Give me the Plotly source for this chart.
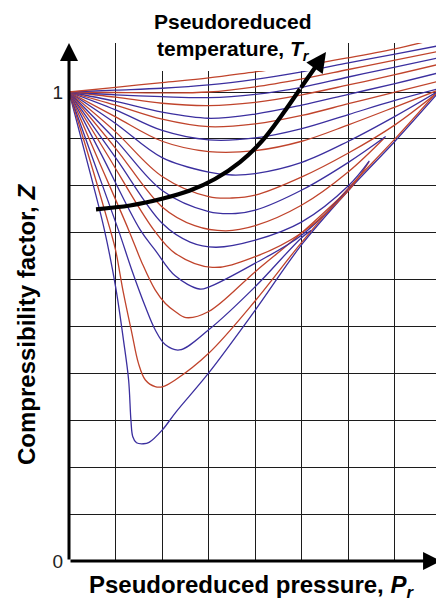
import plotly.graph_objects as go

# ---- Generalized compressibility chart: Z versus pseudoreduced pressure ----
# One isotherm per pseudoreduced temperature, listed from the lowest T_r upward.

iso01_P = [0, 0.5, 0.76, 1.0, 1.17, 1.28, 1.33, 1.37, 1.45, 1.6, 1.72, 2.0, 2.3, 3.0, 4.0, 5.0, 6.0, 7.0, 7.9]
iso01_Z = [1.0, 0.81, 0.706, 0.585, 0.471, 0.386, 0.30, 0.265, 0.252, 0.25, 0.253, 0.279, 0.318, 0.401, 0.535, 0.675, 0.79, 0.895, 0.995]

iso02_P = [0, 0.5, 0.886, 1.0, 1.17, 1.35, 1.49, 1.64, 1.85, 2.02, 2.28, 3.0, 4.0, 5.0, 6.0, 7.0, 7.9]
iso02_Z = [1.0, 0.838, 0.706, 0.663, 0.571, 0.486, 0.422, 0.386, 0.372, 0.372, 0.386, 0.443, 0.555, 0.68, 0.795, 0.9, 1.0]

iso03_P = [0, 0.5, 1.06, 1.35, 1.64, 1.85, 2.07, 2.37, 3.0, 4.0, 5.0, 5.2]
iso03_Z = [1.0, 0.861, 0.706, 0.62, 0.542, 0.493, 0.461, 0.45, 0.493, 0.585, 0.69, 0.705]

iso04_P = [0, 0.6, 1.28, 1.57, 1.85, 2.07, 2.28, 2.51, 3.0, 4.0, 5.0, 6.09]
iso04_Z = [1.0, 0.862, 0.706, 0.635, 0.578, 0.549, 0.532, 0.519, 0.532, 0.617, 0.70, 0.80]

iso05_P = [0, 0.7, 1.53, 1.85, 2.28, 2.8, 3.0, 4.0, 5.0, 6.12]
iso05_Z = [1.0, 0.866, 0.706, 0.663, 0.608, 0.58, 0.584, 0.635, 0.695, 0.805]

iso06_P = [0, 0.8, 1.82, 2.28, 3.08, 4.0, 5.0, 6.0, 6.44]
iso06_Z = [1.0, 0.87, 0.706, 0.656, 0.626, 0.649, 0.70, 0.79, 0.851]

iso07_P = [0, 1.0, 2.0, 2.6, 3.15, 4.0, 5.0, 6.0, 6.45]
iso07_Z = [1.0, 0.86, 0.72, 0.68, 0.669, 0.684, 0.723, 0.80, 0.853]

iso08_P = [0, 1.0, 2.0, 2.7, 3.37, 4.0, 5.0, 6.0, 6.77]
iso08_Z = [1.0, 0.88, 0.755, 0.715, 0.704, 0.715, 0.759, 0.83, 0.902]

iso09_P = [0, 1.0, 2.0, 3.0, 3.58, 4.0, 5.0, 6.0, 6.8]
iso09_Z = [1.0, 0.898, 0.79, 0.745, 0.741, 0.748, 0.791, 0.85, 0.905]

iso10_P = [0, 1.0, 2.0, 3.0, 3.5, 4.0, 5.0, 6.0, 7.0, 7.9]
iso10_Z = [1.0, 0.915, 0.82, 0.777, 0.774, 0.78, 0.819, 0.87, 0.93, 0.998]

iso11_P = [0, 1.0, 2.0, 3.0, 3.5, 4.0, 5.0, 6.0, 7.0, 7.9]
iso11_Z = [1.0, 0.933, 0.86, 0.829, 0.823, 0.826, 0.85, 0.895, 0.948, 1.0]

upper_P = [0, 1, 2, 3, 4, 5, 6, 7, 7.9]
iso12_Z = [1.0, 0.947, 0.895, 0.873, 0.875, 0.895, 0.93, 0.968, 1.003]
iso13_Z = [1.0, 0.962, 0.918, 0.898, 0.902, 0.922, 0.952, 0.982, 1.006]
iso14_Z = [1.0, 0.972, 0.942, 0.926, 0.932, 0.95, 0.975, 1.0, 1.022]
iso15_Z = [1.0, 0.98, 0.957, 0.944, 0.953, 0.972, 0.995, 1.018, 1.04]
iso16_Z = [1.0, 0.989, 0.976, 0.971, 0.978, 0.994, 1.015, 1.037, 1.058]
iso17_Z = [1.0, 0.994, 0.99, 0.988, 0.995, 1.01, 1.032, 1.053, 1.072]
iso18_Z = [1.0, 0.999, 0.998, 1.0, 1.011, 1.028, 1.048, 1.068, 1.086]
iso19_Z = [1.0, 1.004, 1.008, 1.015, 1.027, 1.043, 1.062, 1.081, 1.098]

iso20_P = [0, 1, 2, 3, 4, 5, 6, 7, 7.6]
iso20_Z = [1.0, 1.01, 1.02, 1.03, 1.043, 1.056, 1.073, 1.092, 1.106]

# Curved arrow showing the direction of increasing T_r
arrow_P = [0.58, 1.31, 2.018, 2.598, 3.135, 3.672, 4.144, 4.573, 4.96, 5.519]
arrow_Z = [0.7499, 0.758, 0.7729, 0.79, 0.8145, 0.8507, 0.8955, 0.951, 1.0064, 1.0853]

# White backing behind the top caption
caption_box_P = [1.62, 5.41, 5.41, 1.62, 1.62]
caption_box_Z = [1.045, 1.045, 1.25, 1.25, 1.045]

# Axis ticks
y_tick_vals = [0, 1]
y_tick_text = ["0", "1"]
y_grid_vals = [0.1, 0.2, 0.3, 0.4, 0.5, 0.6, 0.7, 0.8, 0.9]

RED = "#c0442c"
BLUE = "#3b2f9f"
FONT = "Liberation Sans, Arial, sans-serif"

X_MAX = 7.881
Y_MAX = 1.1045
X_ARROW_END = 7.99

isotherms = [
    (iso01_P, iso01_Z, BLUE), (iso02_P, iso02_Z, RED),
    (iso03_P, iso03_Z, BLUE), (iso04_P, iso04_Z, RED),
    (iso05_P, iso05_Z, BLUE), (iso06_P, iso06_Z, RED),
    (iso07_P, iso07_Z, BLUE), (iso08_P, iso08_Z, RED),
    (iso09_P, iso09_Z, BLUE), (iso10_P, iso10_Z, RED),
    (iso11_P, iso11_Z, BLUE), (upper_P, iso12_Z, RED),
    (upper_P, iso13_Z, BLUE), (upper_P, iso14_Z, RED),
    (upper_P, iso15_Z, BLUE), (upper_P, iso16_Z, RED),
    (upper_P, iso17_Z, BLUE), (upper_P, iso18_Z, RED),
    (upper_P, iso19_Z, BLUE), (iso20_P, iso20_Z, RED),
]

fig = go.Figure()

for p, z, c in isotherms:
    fig.add_trace(go.Scatter(
        x=p, y=z, mode="lines",
        line=dict(color=c, width=1.3, shape="spline", smoothing=1.0),
        hoverinfo="skip", showlegend=False,
    ))

fig.add_trace(go.Scatter(
    x=caption_box_P, y=caption_box_Z, mode="lines", fill="toself",
    fillcolor="white", line=dict(width=0, color="white"),
    hoverinfo="skip", showlegend=False,
))

# Shaft of the T_r arrow (the head is an annotation arrow below)
fig.add_trace(go.Scatter(
    x=arrow_P[:-1], y=arrow_Z[:-1], mode="lines",
    line=dict(color="black", width=4.2, shape="spline", smoothing=1.0),
    hoverinfo="skip", showlegend=False, cliponaxis=False,
))

grid_color = "#1c1c1c"

fig.update_layout(
    width=436, height=601,
    margin=dict(l=69, r=0, t=43, b=40),
    paper_bgcolor="white", plot_bgcolor="white",
    font=dict(family=FONT, color="black"),
    xaxis=dict(
        range=[0, X_MAX], dtick=1, tick0=0, showgrid=True,
        gridcolor=grid_color, gridwidth=1.3, showticklabels=False,
        zeroline=False, showline=False, ticks="",
    ),
    yaxis=dict(
        range=[0, Y_MAX], tickmode="array", tickvals=y_tick_vals,
        ticktext=y_tick_text, showgrid=True, gridcolor=grid_color,
        gridwidth=1.3, zeroline=False, showline=False, ticks="",
        ticklabelstandoff=5,
        tickfont=dict(size=19, color="#222222", family=FONT),
        minor=dict(tickmode="array", tickvals=y_grid_vals, showgrid=True,
                   gridcolor=grid_color, gridwidth=1.3, ticks=""),
    ),
)

annotations = [
    # y axis with arrowhead
    dict(x=0, y=Y_MAX, ax=0, ay=0, xref="x", yref="y", axref="x", ayref="y",
         text="", showarrow=True, arrowhead=2, arrowsize=1.2, arrowwidth=3,
         arrowcolor="black"),
    # x axis with arrowhead
    dict(x=X_ARROW_END, y=0, ax=0, ay=0, xref="x", yref="y", axref="x", ayref="y",
         text="", showarrow=True, arrowhead=2, arrowsize=1.2, arrowwidth=3,
         arrowcolor="black"),
    # last stretch and head of the T_r arrow
    dict(x=arrow_P[-1], y=arrow_Z[-1], ax=arrow_P[-2], ay=arrow_Z[-2],
         xref="x", yref="y", axref="x", ayref="y",
         text="", showarrow=True, arrowhead=2, arrowsize=0.95, arrowwidth=4.2,
         arrowcolor="black"),
    dict(x=3.52, y=1.0676, xref="x", yref="paper", xanchor="center",
         yanchor="top", showarrow=False, align="center",
         text="<b>Pseudoreduced<br>temperature, <i>T</i><sub><i>r</i></sub></b>",
         font=dict(size=21, family=FONT, color="black")),
    dict(x=0.4986, y=-0.05, xref="paper", yref="paper", xanchor="center",
         yanchor="middle", showarrow=False,
         text="<b>Pseudoreduced pressure, <i>P</i><sub><i>r</i></sub></b>",
         font=dict(size=24, family=FONT, color="black")),
    dict(x=-0.1144, y=0.4556, xref="paper", yref="paper", xanchor="center",
         yanchor="middle", showarrow=False, textangle=-90,
         text="<b>Compressibility factor, <i>Z</i></b>",
         font=dict(size=24, family=FONT, color="black")),
]
fig.update_layout(annotations=annotations)

fig.write_html("out.html")
